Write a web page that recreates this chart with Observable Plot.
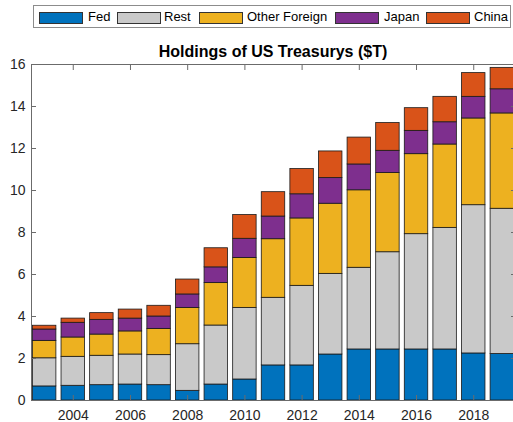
<!DOCTYPE html>
<html><head><meta charset="utf-8">
<script src="https://cdn.jsdelivr.net/npm/d3@7"></script>
<script src="https://cdn.jsdelivr.net/npm/@observablehq/plot@0.6"></script>
<style>
html,body{margin:0;padding:0;background:#fff;overflow:hidden;}
#wrap{position:relative;width:513px;height:422px;overflow:hidden;font-family:"Liberation Sans",Arial,sans-serif;color:#262626;}
#legend{position:absolute;left:33px;top:5px;width:478px;height:23px;border:1px solid #8c8c8c;box-sizing:border-box;background:#fff;}
.sw{position:absolute;top:6px;width:44px;height:12px;border:1px solid #333;box-sizing:border-box;}
.lt{position:absolute;top:2px;font-size:13px;line-height:18px;color:#000;white-space:nowrap;}
#title{position:absolute;left:31px;width:484px;top:43px;text-align:center;font-weight:bold;font-size:16px;line-height:18px;color:#000;}
#chart{position:absolute;left:0;top:0;width:516px;height:422px;}
#chart svg{max-width:none !important;}
</style>
</head><body>
<div id="wrap"><div id="chart"></div><div id="legend"></div><div id="title">Holdings of US Treasurys ($T)</div></div>
<script>
const years = [2003,2004,2005,2006,2007,2008,2009,2010,2011,2012,2013,2014,2015,2016,2017,2018,2019];
const series = ["Fed","Rest","Other Foreign","Japan","China"];
const colors = ["#0072BD","#C9C9C9","#EDB120","#7E2F8E","#D95319"];
const fed          = [0.67,0.70,0.73,0.76,0.73,0.46,0.76,1.00,1.67,1.67,2.19,2.43,2.43,2.43,2.43,2.24,2.21];
const rest         = [1.34,1.38,1.40,1.43,1.43,2.22,2.81,3.41,3.22,3.79,3.84,3.89,4.63,5.49,5.79,7.06,6.92];
const otherForeign = [0.83,0.92,1.01,1.10,1.25,1.73,2.02,2.38,2.79,3.21,3.34,3.69,3.77,3.81,3.97,4.13,4.54];
const japan        = [0.54,0.70,0.70,0.61,0.59,0.64,0.75,0.91,1.08,1.15,1.22,1.23,1.06,1.11,1.06,1.03,1.15];
const china        = [0.18,0.20,0.32,0.43,0.51,0.71,0.91,1.13,1.16,1.20,1.27,1.28,1.32,1.08,1.21,1.13,1.02];
const xTicks = [2004,2006,2008,2010,2012,2014,2016,2018];
const yTicks = [0,2,4,6,8,10,12,14,16];

const seriesValues = [fed, rest, otherForeign, japan, china];
const data = years.flatMap((yr, i) => seriesValues.map((arr, j) => ({year: yr, series: series[j], value: arr[i]})));

// legend
const swLeft = [5, 83, 165, 301, 392];
const txLeft = [54, 130, 213, 350, 440];
const legend = d3.select("#legend");
series.forEach((s, i) => {
  legend.append("div").attr("class", "sw").style("left", swLeft[i] + "px").style("background", colors[i]);
  legend.append("div").attr("class", "lt").style("left", txLeft[i] + "px").text(s);
});

const axisColor = "#6b6b6b";
const chart = Plot.plot({
  width: 516, height: 422,
  marginLeft: 31, marginRight: 1, marginTop: 64, marginBottom: 22,
  style: {fontFamily: "'Liberation Sans', Arial, sans-serif", fontSize: "14px", color: "#262626", background: "transparent", overflow: "visible"},
  x: {type: "band", domain: years, paddingInner: 0.18, paddingOuter: 0.05, align: 0.5, round: false, label: null},
  y: {domain: [0, 16], label: null},
  color: {domain: series, range: colors},
  marks: [
    Plot.barY(data, {x: "year", y: "value", fill: "series", order: series, stroke: "#1a1a1a", strokeWidth: 0.8}),
    Plot.frame({stroke: axisColor, strokeWidth: 1}),
    Plot.axisY({ticks: yTicks, tickSize: 0, tickPadding: 6, fontSize: 14, label: null}),
    Plot.axisY({ticks: yTicks, tickSize: 5, dx: 5, tickFormat: () => "", label: null, stroke: axisColor}),
    Plot.axisY({anchor: "right", ticks: yTicks, tickSize: 5, dx: -5, tickFormat: () => "", label: null, stroke: axisColor}),
    Plot.axisX({ticks: xTicks, tickSize: 0, tickPadding: 10, fontSize: 14, tickFormat: d => String(d), label: null}),
    Plot.axisX({ticks: xTicks, tickSize: 5, dy: -5, tickFormat: () => "", label: null, stroke: axisColor}),
    Plot.axisX({anchor: "top", ticks: xTicks, tickSize: 5, dy: 5, tickFormat: () => "", label: null, stroke: axisColor})
  ]
});
document.getElementById("chart").appendChild(chart);
</script>
</body></html>
